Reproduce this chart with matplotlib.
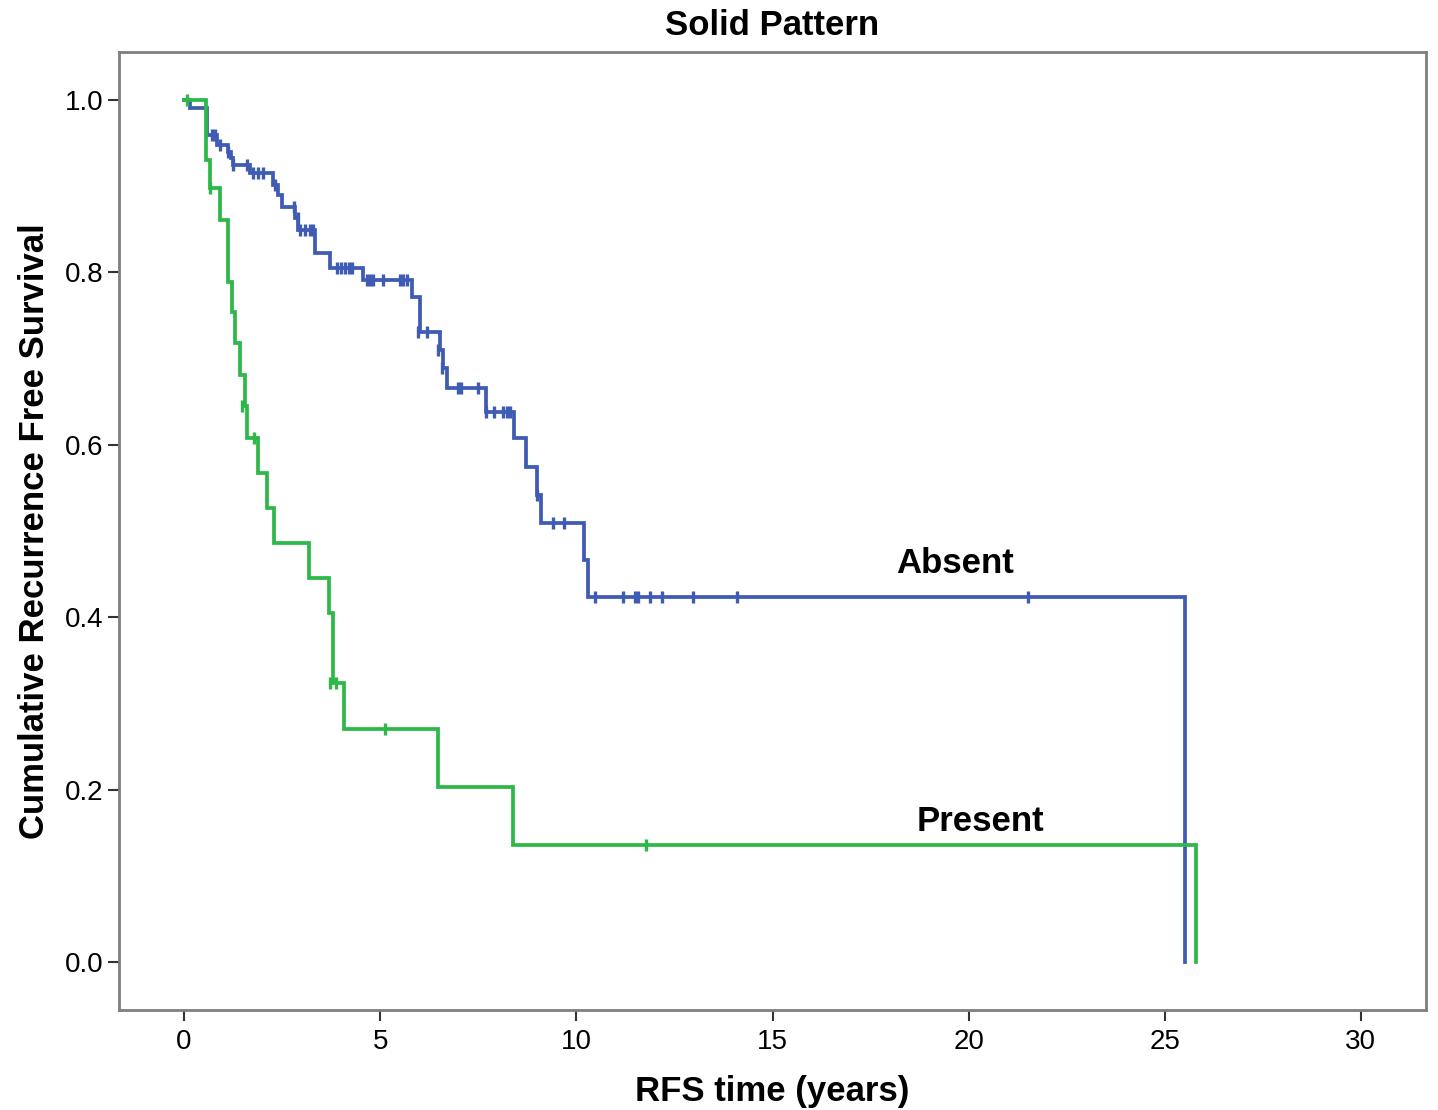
#!/usr/bin/env python3
import sys
import matplotlib
matplotlib.use('Agg')
import matplotlib.pyplot as plt

plt.rcParams['font.family'] = ['Liberation Sans', 'DejaVu Sans']

# Absent group: event times (years) and survival after each step
absent_times = [0.0, 0.15, 0.59, 0.84, 1.12, 1.2, 1.25, 1.68, 2.27, 2.4, 2.5, 2.83, 2.91,
                3.34, 3.72, 4.56, 5.81, 6.02, 6.53, 6.6, 6.7, 7.7, 8.41, 8.72, 9.0,
                9.1, 10.2, 10.3, 25.52]
absent_surv = [1.0, 0.991, 0.959, 0.948, 0.94, 0.933, 0.925, 0.915, 0.901, 0.89, 0.876,
               0.863, 0.849, 0.822, 0.805, 0.791, 0.772, 0.731, 0.71, 0.689, 0.666,
               0.638, 0.608, 0.574, 0.542, 0.509, 0.466, 0.423, 0.0]
absent_cens_t = [0.72, 0.8, 0.92, 1.12, 1.25, 1.6, 1.76, 1.89, 2.01, 2.32, 2.8, 2.9,
                 2.96, 3.08, 3.21, 3.29, 3.9, 4.0, 4.1, 4.2, 4.28, 4.66, 4.74, 4.82,
                 5.07, 5.5, 5.58, 5.68, 5.96, 6.19, 6.47, 6.58, 6.98, 7.06, 7.49, 7.7,
                 7.9, 8.13, 8.23, 8.31, 9.0, 9.41, 9.69, 10.48, 11.19, 11.5, 11.57,
                 11.88, 12.18, 12.97, 14.1, 21.51]
absent_cens_s = [0.959, 0.959, 0.948, 0.94, 0.925, 0.925, 0.915, 0.915, 0.915, 0.901,
                 0.876, 0.863, 0.849, 0.849, 0.849, 0.849, 0.805, 0.805, 0.805, 0.805,
                 0.805, 0.791, 0.791, 0.791, 0.791, 0.791, 0.791, 0.791, 0.731, 0.731,
                 0.71, 0.689, 0.666, 0.666, 0.666, 0.638, 0.638, 0.638, 0.638, 0.638,
                 0.542, 0.509, 0.509, 0.423, 0.423, 0.423, 0.423, 0.423, 0.423, 0.423,
                 0.423, 0.423]

# Present group
present_times = [0.0, 0.56, 0.66, 0.92, 1.12, 1.22, 1.3, 1.43, 1.55, 1.6, 1.89, 2.12,
                 2.29, 3.19, 3.7, 3.8, 4.08, 6.47, 8.39, 25.8]
present_surv = [1.0, 0.93, 0.898, 0.861, 0.789, 0.754, 0.718, 0.681, 0.645, 0.608,
                0.567, 0.527, 0.486, 0.445, 0.405, 0.324, 0.27, 0.203, 0.136, 0.0]
present_cens_t = [0.08, 0.66, 1.47, 1.78, 3.73, 3.87, 5.11, 11.78]
present_cens_s = [1.0, 0.898, 0.645, 0.608, 0.324, 0.324, 0.27, 0.136]

x_ticks = [0, 5, 10, 15, 20, 25, 30]
y_ticks = [0.0, 0.2, 0.4, 0.6, 0.8, 1.0]

BLUE = '#3f5bb3'
GREEN = '#2eb84a'


def draw_group(ax, times, surv, cens_t, cens_s, color):
	ax.plot(times, surv, drawstyle='steps-post', color=color, lw=2.7, solid_joinstyle='miter')
	ax.plot(cens_t, cens_s, linestyle='none', marker='|', markersize=8,
		markeredgewidth=2.4, color=color)


def main():
	fig = plt.figure(figsize=(14.38, 11.10), dpi=100)
	ax = fig.add_axes([119 / 1438, 1 - 1010 / 1110, (1426 - 119) / 1438, (1010 - 52) / 1110])

	draw_group(ax, absent_times, absent_surv, absent_cens_t, absent_cens_s, BLUE)
	draw_group(ax, present_times, present_surv, present_cens_t, present_cens_s, GREEN)

	ax.text(19.65, 0.462, 'Absent', fontsize=25, fontweight='bold', ha='center', va='center')
	ax.text(20.3, 0.163, 'Present', fontsize=25, fontweight='bold', ha='center', va='center')

	ax.set_xlim(-1.66, 31.66)
	ax.set_ylim(-0.0557, 1.0557)
	ax.set_xticks(x_ticks)
	ax.set_yticks(y_ticks)
	ax.set_yticklabels([f'{v:.1f}' for v in y_ticks])
	ax.tick_params(direction='out', length=8, width=1.5, color='#333333',
		labelsize=20, pad=3)
	ax.tick_params(axis='x', pad=6)

	for s in ax.spines.values():
		s.set_color('#7f7f7f')
		s.set_linewidth(2)

	ax.set_title('Solid Pattern', fontsize=25, fontweight='bold', pad=12)
	ax.set_xlabel('RFS time (years)', fontsize=25, fontweight='bold', labelpad=14)
	ax.set_ylabel('Cumulative Recurrence Free Survival', fontsize=25, fontweight='bold', labelpad=10)

	fig.savefig('out.png', dpi=100)


if __name__ == '__main__':
	sys.exit(main())
